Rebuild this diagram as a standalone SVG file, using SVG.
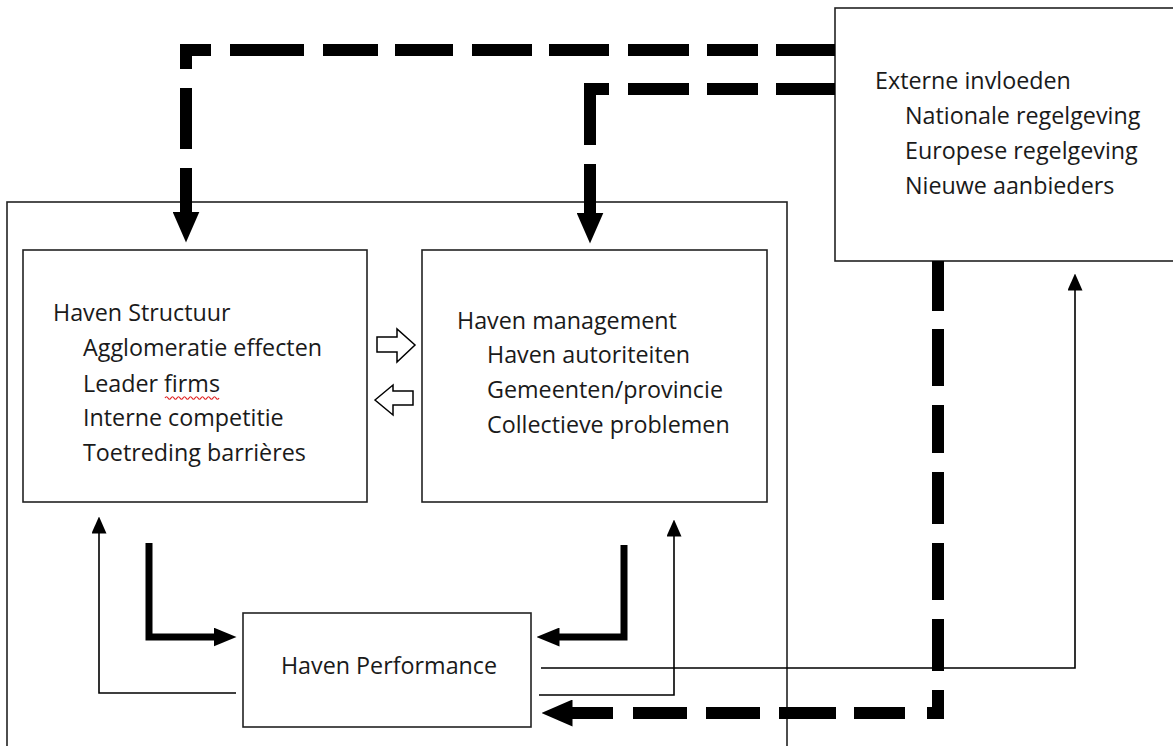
<svg xmlns="http://www.w3.org/2000/svg" width="1173" height="746" viewBox="0 0 1173 746">
<style>
.box{fill:#fff;stroke:#222;stroke-width:1.6}
.t{font-family:"Open Sans","Noto Sans",sans-serif;font-size:23.3px;fill:#1a1a1a}
.dash{fill:none;stroke:#000;stroke-width:12;stroke-linejoin:miter}
.thick{fill:none;stroke:#000;stroke-width:7;stroke-linejoin:miter}
.thin{fill:none;stroke:#000;stroke-width:1.6}
.blk{fill:#fff;stroke:#000;stroke-width:1.5;stroke-linejoin:miter}
</style>
<defs>
<marker id="aBig" markerUnits="userSpaceOnUse" markerWidth="31" markerHeight="27" viewBox="0 0 31 27" refX="0.5" refY="13.5" orient="auto">
<path d="M0,0 L31,13.5 L0,27 Z" fill="#000"/>
</marker>
<marker id="aMid" markerUnits="userSpaceOnUse" markerWidth="23" markerHeight="19" viewBox="0 0 23 19" refX="0.5" refY="9.5" orient="auto">
<path d="M0,0 L23,9.5 L0,19 Z" fill="#000"/>
</marker>
<marker id="aSm" markerUnits="userSpaceOnUse" markerWidth="17" markerHeight="15" viewBox="0 0 17 15" refX="0.5" refY="7.5" orient="auto">
<path d="M0,0 L17,7.5 L0,15 Z" fill="#000"/>
</marker>
</defs>

<g id="outer">
<rect x="7" y="202" width="780" height="560" fill="none" stroke="#222" stroke-width="1.6"/>
</g>

<g id="externe-invloeden">
<rect class="box" x="835" y="8" width="360" height="253"/>
<text class="t" x="875" y="89">Externe invloeden</text>
<text class="t" x="905" y="124">Nationale regelgeving</text>
<text class="t" x="905" y="159">Europese regelgeving</text>
<text class="t" x="905" y="194">Nieuwe aanbieders</text>
</g>

<g id="haven-structuur">
<rect class="box" x="23" y="250" width="344" height="252"/>
<text class="t" x="53" y="321">Haven Structuur</text>
<text class="t" x="83" y="356">Agglomeratie effecten</text>
<text class="t" x="83" y="392">Leader firms</text>
<path d="M165,398 q1.5,-2.5 3,0 t3,0 t3,0 t3,0 t3,0 t3,0 t3,0 t3,0 t3,0 t3,0 t3,0 t3,0 t3,0 t3,0 t3,0 t3,0 t3,0 t3,0" fill="none" stroke="#e02020" stroke-width="1.2"/>
<text class="t" x="83" y="426">Interne competitie</text>
<text class="t" x="83" y="461">Toetreding barrières</text>
</g>

<g id="haven-management">
<rect class="box" x="422" y="250" width="345" height="252"/>
<text class="t" x="457" y="329">Haven management</text>
<text class="t" x="487" y="363">Haven autoriteiten</text>
<text class="t" x="487" y="398">Gemeenten/provincie</text>
<text class="t" x="487" y="433">Collectieve problemen</text>
</g>

<g id="haven-performance">
<rect class="box" x="243" y="613" width="288" height="114"/>
<text class="t" x="389" y="674" text-anchor="middle">Haven Performance</text>
</g>

<g id="connectors">
<path class="dash" stroke-dasharray="59 18 51 18 61 19 60 17 60 19 58 17 55 19 74 19 44 19 61 19 60" d="M835,50 L186,50 L186,212" marker-end="url(#aBig)"/>
<path class="dash" stroke-dasharray="59 18 51 18 61 19 75 19 60" d="M835,89 L590,89 L590,213" marker-end="url(#aBig)"/>
<path class="dash" stroke-dasharray="50 18 57 19 48 19 52 19 57 19 52 19 34 22 51 18 57 19 54 19 54 20 60" d="M938,261 L938,713 L572,713" marker-end="url(#aBig)"/>
<path class="thick" d="M149,543 L149,637 L214,637" marker-end="url(#aMid)"/>
<path class="thick" d="M624,545 L624,637 L559,637" marker-end="url(#aMid)"/>
<path class="thin" d="M236,693 L99,693 L99,533" marker-end="url(#aSm)"/>
<path class="thin" d="M539,695 L674,695 L674,536" marker-end="url(#aSm)"/>
<path class="thin" d="M541,668 L1075,668 L1075,290" marker-end="url(#aSm)"/>
<path class="blk" d="M377,337 L397,337 L397,329 L415,345 L397,362 L397,352 L377,352 Z"/>
<path class="blk" d="M375,400 L393,385 L393,391 L413,391 L413,405 L393,405 L393,415 Z"/>
</g>
</svg>
